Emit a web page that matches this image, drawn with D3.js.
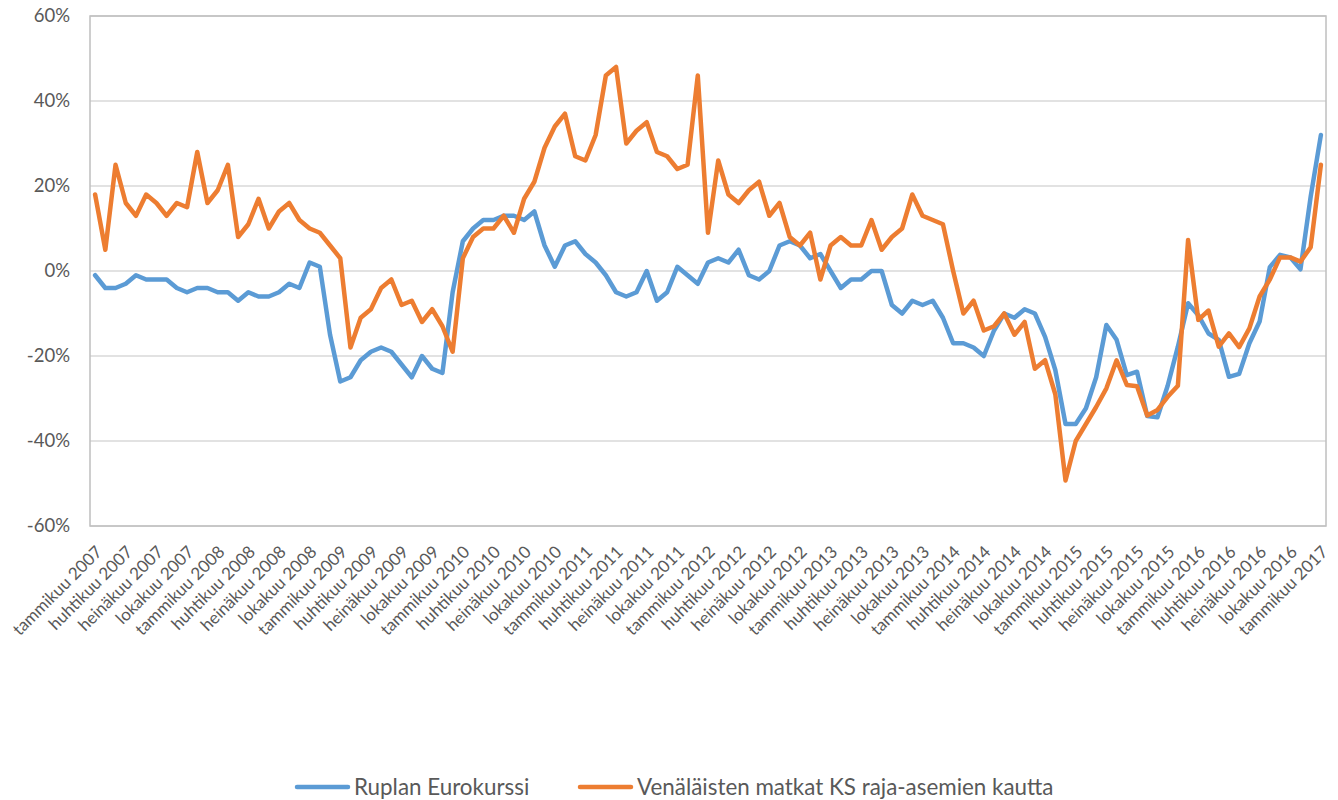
<!DOCTYPE html>
<html>
<head>
<meta charset="utf-8">
<script src="https://cdn.jsdelivr.net/npm/d3@7"></script>
<style>
  body { margin: 0; background: #fff; }
  svg { display: block; font-family: Lato, "Open Sans", sans-serif; }
</style>
</head>
<body>
<svg width="1338" height="800"></svg>
<script>
'use strict';

// monthly data, tammikuu 2007 .. tammikuu 2017 (percent)
var monthNames = ['tammikuu', 'helmikuu', 'maaliskuu', 'huhtikuu', 'toukokuu', 'kesäkuu',
  'heinäkuu', 'elokuu', 'syyskuu', 'lokakuu', 'marraskuu', 'joulukuu'];
var startYear = 2007;

var ruble = [
  -1, -4, -4, -3, -1, -2, -2, -2, -4, -5, -4, -4,
  -5, -5, -7, -5, -6, -6, -5, -3, -4, 2, 1, -15,
  -26, -25, -21, -19, -18, -19, -22, -25, -20, -23, -24, -5,
  7, 10, 12, 12, 13, 13, 12, 14, 6, 1, 6, 7,
  4, 2, -1, -5, -6, -5, 0, -7, -5, 1, -1, -3,
  2, 3, 2, 5, -1, -2, 0, 6, 7, 6, 3, 4,
  0, -4, -2, -2, 0, 0, -8, -10, -7, -8, -7, -11,
  -17, -17, -18, -20, -14, -10, -11, -9, -10, -15.5, -23.3, -36,
  -36, -32.3, -25, -12.7, -16.2, -24.5, -23.7, -34.1, -34.4, -27, -17.8, -7.6,
  -10.4, -14.7, -16.2, -24.9, -24.2, -17, -11.9, 0.9, 3.8, 3.2, 0.4, 17.5,
  32
];

var trips = [
  18, 5, 25, 16, 13, 18, 16, 13, 16, 15, 28, 16,
  19, 25, 8, 11, 17, 10, 14, 16, 12, 10, 9, 6,
  3, -18, -11, -9, -4, -2, -8, -7, -12, -9, -13, -19,
  3, 8, 10, 10, 13, 9, 17, 21, 29, 34, 37, 27,
  26, 32, 46, 48, 30, 33, 35, 28, 27, 24, 25, 46,
  9, 26, 18, 16, 19, 21, 13, 16, 8, 6, 9, -2,
  6, 8, 6, 6, 12, 5, 8, 10, 18, 13, 12, 11,
  0, -10, -7, -14, -13, -10, -15, -12, -23, -21, -29, -49.3,
  -40, -36, -32, -27.6, -21, -26.8, -27.1, -34, -32.7, -29.6, -27, 7.3,
  -11.5, -9.3, -17.8, -14.7, -17.9, -13.5, -6, -2, 3.2, 3.2, 2.2, 5.6,
  25
];

var yTicks = [-60, -40, -20, 0, 20, 40, 60];

var seriesNames = ['Ruplan Eurokurssi', 'Venäläisten matkat KS raja-asemien kautta'];
var seriesColors = ['#5B9BD5', '#ED7D31'];

var labels = ruble.map(function (d, i) {
  return monthNames[i % 12] + ' ' + (startYear + Math.floor(i / 12));
});

var svg = d3.select('svg');

var plotLeft = 90, plotRight = 1326, plotTop = 16, plotBottom = 526;

var x = d3.scalePoint().domain(d3.range(ruble.length)).range([plotLeft, plotRight]).padding(0.5);
var y = d3.scaleLinear().domain([-60, 60]).range([plotBottom, plotTop]);

// grid
svg.append('g').selectAll('line').data(yTicks).enter().append('line')
  .attr('x1', plotLeft).attr('x2', plotRight)
  .attr('y1', function (d) { return y(d); }).attr('y2', function (d) { return y(d); })
  .attr('stroke', '#d9d9d9').attr('stroke-width', 1.5);

svg.append('rect')
  .attr('x', plotLeft).attr('y', plotTop).attr('width', plotRight - plotLeft).attr('height', plotBottom - plotTop)
  .attr('fill', 'none').attr('stroke', '#bfbfbf').attr('stroke-width', 1.5);

// y labels
svg.append('g').selectAll('text').data(yTicks).enter().append('text')
  .attr('x', 70).attr('y', function (d) { return y(d) + 6; })
  .attr('text-anchor', 'end').attr('fill', '#595959').style('font-size', '18.5px')
  .text(function (d) { return d + '%'; });

// x labels, every third month
svg.append('g').selectAll('text').data(d3.range(0, ruble.length, 3)).enter().append('text')
  .attr('text-anchor', 'end').attr('fill', '#595959').style('font-size', '17px')
  .attr('transform', function (i) { return 'translate(' + (x(i) + 8) + ',' + 553 + ') rotate(-45)'; })
  .text(function (i) { return labels[i]; });

// lines
var line = d3.line()
  .x(function (d, i) { return x(i); })
  .y(function (d) { return y(d); });

[ruble, trips].forEach(function (s, k) {
  svg.append('path').datum(s)
    .attr('d', line)
    .attr('fill', 'none')
    .attr('stroke', seriesColors[k])
    .attr('stroke-width', 4.5)
    .attr('stroke-linejoin', 'round')
    .attr('stroke-linecap', 'round');
});

// legend
var legendX = [297, 580];
var legend = svg.append('g').selectAll('g').data(seriesNames).enter().append('g')
  .attr('transform', function (d, i) { return 'translate(' + legendX[i] + ',787)'; });
legend.append('line')
  .attr('x1', 0).attr('x2', 51).attr('y1', 0).attr('y2', 0)
  .attr('stroke', function (d, i) { return seriesColors[i]; })
  .attr('stroke-width', 4.5).attr('stroke-linecap', 'round');
legend.append('text')
  .attr('x', 57).attr('y', 8)
  .attr('fill', '#595959').style('font-size', '22.4px')
  .text(function (d) { return d; });
</script>
</body>
</html>
